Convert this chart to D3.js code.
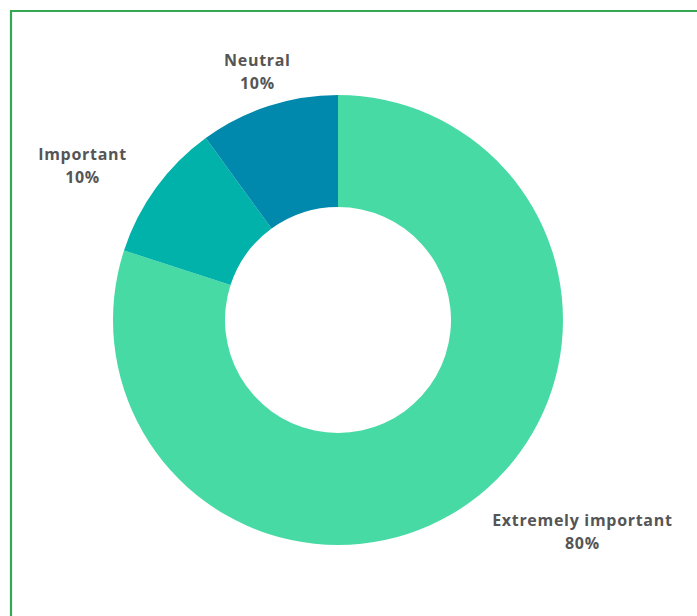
<!DOCTYPE html>
<html>
<head>
<meta charset="utf-8">
<script src="https://cdn.jsdelivr.net/npm/d3@7/dist/d3.min.js"></script>
<style>
  html, body { margin: 0; padding: 0; background: #fff; }
  svg { display: block; }
</style>
</head>
<body>
<svg id="chart" width="697" height="616"></svg>
<script>
// Survey answers and their shares (percent)
const categories = ["Extremely important", "Important", "Neutral"];
const values = [80, 10, 10];
const colors = ["#48daa5", "#00b2a9", "#0089ad"];

const width = 697, height = 616;
const cx = 338, cy = 320;
const outerR = 225, innerR = 113;

const svg = d3.select("#chart");

// Frame around the card (open on the right and bottom edges of the view)
svg.append("path")
  .attr("d", `M${width + 5},11 H11 V${height + 5}`)
  .attr("fill", "none")
  .attr("stroke", "#34a853")
  .attr("stroke-width", 2.2);

const data = categories.map((c, i) => ({ category: c, value: values[i], color: colors[i] }));

const pie = d3.pie().value(d => d.value).sort(null);
const arcs = pie(data);
const arc = d3.arc().innerRadius(innerR).outerRadius(outerR);

const g = svg.append("g").attr("transform", `translate(${cx},${cy})`);

g.selectAll("path.slice")
  .data(arcs)
  .join("path")
  .attr("class", "slice")
  .attr("d", arc)
  .attr("fill", d => d.data.color);

// Labels: two centred lines placed just outside each slice
const labelR = outerR + 10;
const lineH = 23;

arcs.forEach(a => {
  const mid = (a.startAngle + a.endAngle) / 2;
  const px = Math.sin(mid) * labelR;
  const py = -Math.cos(mid) * labelR;

  const t = g.append("text")
    .attr("text-anchor", "middle")
    .attr("font-family", "'Open Sans', sans-serif")
    .attr("font-weight", 700)
    .attr("font-size", 16)
    .attr("letter-spacing", 0.7)
    .attr("fill", "#555555");
  t.append("tspan").attr("x", 0).attr("dy", 0).text(a.data.category);
  t.append("tspan").attr("x", 0).attr("dy", lineH).text(a.data.value + "%");

  const w = t.node().getBBox().width;
  const s = Math.sin(mid), c = -Math.cos(mid);
  let x, y;
  if (Math.abs(s) < 0.4) {
    // near the top or bottom: centred over the point
    x = px - 8;
    y = c < 0 ? py - lineH - 8 : py + 16;
  } else if (s > 0) {
    x = px + 16 + w / 2;
    y = c > 0 ? py + 16 : py - lineH;
  } else {
    x = px - 21 - w / 2;
    y = c < 0 ? py - lineH + 1 : py + 16;
  }
  t.attr("transform", `translate(${x},${y})`);
});
</script>
</body>
</html>
